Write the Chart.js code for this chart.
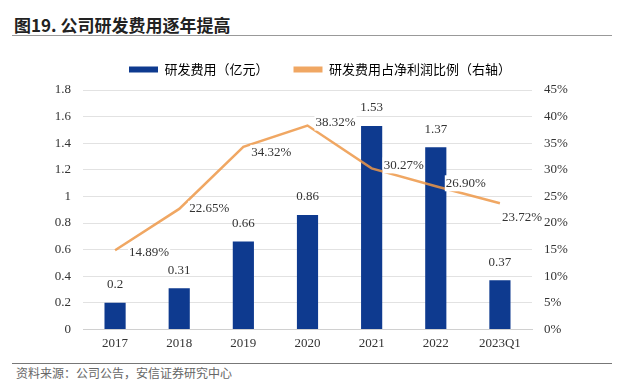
<!DOCTYPE html>
<html>
<head>
<meta charset="utf-8">
<script src="https://cdn.jsdelivr.net/npm/chart.js@4"></script>
<style>
  html, body { margin: 0; padding: 0; background: #fff; }
  #wrap { position: relative; width: 640px; height: 386px; overflow: hidden; }
  #title { position: absolute; left: 14px; top: 15px; font: bold 17px/20px "Noto Sans CJK SC", sans-serif; color: #222; }
  #rule1 { position: absolute; left: 12px; top: 35px; width: 600px; height: 1px; background: #999; }
  #rule2 { position: absolute; left: 12px; top: 363px; width: 600px; height: 1px; background: #777; }
  #source { position: absolute; left: 16px; top: 365px; font: 12px/16px "Noto Sans CJK SC", sans-serif; color: #666; }
  #box { position: absolute; left: 0; top: 38px; width: 640px; height: 319px; }
</style>
</head>
<body>
<div id="wrap">
  <div id="title">图19. 公司研发费用逐年提高</div>
  <div id="rule1"></div>
  <div id="box"><canvas id="chart"></canvas></div>
  <div id="rule2"></div>
  <div id="source">资料来源：公司公告，安信证券研究中心</div>
</div>
<script>
const categories = ['2017', '2018', '2019', '2020', '2021', '2022', '2023Q1'];
const rdExpense = [0.2, 0.31, 0.66, 0.86, 1.53, 1.37, 0.37];
const rdRatio = [14.89, 22.65, 34.32, 38.32, 30.27, 26.90, 23.72];
const rdExpenseLabels = ['0.2', '0.31', '0.66', '0.86', '1.53', '1.37', '0.37'];
const rdRatioLabels = ['14.89%', '22.65%', '34.32%', '38.32%', '30.27%', '26.90%', '23.72%'];

// label placement for the line points (dx, dy from the point)
const lineLabelShift = [[14, 2], [10, 0], [8, 6], [8, -3], [12, -3], [10, -3], [2, 14]];

const legendHeight = {
  id: 'legendHeight',
  beforeInit(chart) {
    const fit = chart.legend.fit;
    chart.legend.fit = function () {
      fit.call(this);
      this.height = 52;
    };
  }
};

const valueLabels = {
  id: 'valueLabels',
  afterDatasetsDraw(chart) {
    const ctx = chart.ctx;
    ctx.save();
    ctx.font = '13px "Liberation Serif", serif';
    ctx.textBaseline = 'middle';

    // bars are dataset 1
    chart.getDatasetMeta(1).data.forEach((bar, i) => {
      ctx.fillStyle = '#333';
      ctx.textAlign = 'center';
      ctx.fillText(rdExpenseLabels[i], bar.x, bar.y - 18);
    });

    // line is dataset 0
    chart.getDatasetMeta(0).data.forEach((pt, i) => {
      const [dx, dy] = lineLabelShift[i];
      const txt = rdRatioLabels[i];
      const w = ctx.measureText(txt).width;
      const x = pt.x + dx, y = pt.y + dy;
      ctx.fillStyle = '#fff';
      ctx.fillRect(x - 1, y - 8, w + 2, 16);
      ctx.fillStyle = '#333';
      ctx.textAlign = 'left';
      ctx.fillText(txt, x, y);
    });
    ctx.restore();
  }
};

new Chart(document.getElementById('chart'), {
  type: 'bar',
  data: {
    labels: categories,
    datasets: [
      {
        type: 'line',
        label: '研发费用占净利润比例（右轴）',
        data: rdRatio,
        yAxisID: 'y1',
        borderColor: 'rgba(237, 152, 72, 0.85)',
        backgroundColor: 'rgba(237, 152, 72, 0.85)',
        borderWidth: 2.5,
        pointRadius: 0,
        tension: 0,
        order: 0
      },
      {
        label: '研发费用（亿元）',
        data: rdExpense,
        yAxisID: 'y',
        backgroundColor: '#0e3a8f',
        barPercentage: 0.33,
        categoryPercentage: 1,
        order: 1
      }
    ]
  },
  options: {
    responsive: true,
    maintainAspectRatio: false,
    animation: false,
    layout: { padding: 0 },
    plugins: {
      tooltip: { enabled: false },
      legend: {
        position: 'top',
        reverse: true,
        labels: {
          font: { size: 13, family: '"Noto Sans CJK SC", sans-serif' },
          color: '#333',
          boxWidth: 29,
          boxHeight: 6,
          padding: 25,
          generateLabels(chart) {
            return chart.data.datasets.map((ds, i) => ({
              text: ds.label,
              fillStyle: ds.type === 'line' ? ds.borderColor : ds.backgroundColor,
              strokeStyle: ds.type === 'line' ? ds.borderColor : ds.backgroundColor,
              lineWidth: 0,
              datasetIndex: i,
              hidden: false
            }));
          }
        }
      }
    },
    scales: {
      x: {
        grid: { display: false, drawTicks: false },
        border: { color: '#d0d0d0' },
        ticks: { color: '#333', padding: 6, font: { size: 13, family: '"Liberation Serif", serif' } }
      },
      y: {
        position: 'left',
        min: 0,
        max: 1.8,
        afterFit(s) { s.width = 83; },
        grid: { color: '#e2e2e2', drawTicks: false },
        border: { display: false },
        ticks: {
          stepSize: 0.2,
          padding: 12,
          color: '#333',
          font: { size: 13, family: '"Liberation Serif", serif' },
          callback: v => Math.round(v * 10) / 10
        }
      },
      y1: {
        position: 'right',
        min: 0,
        max: 45,
        afterFit(s) { s.width = 108; },
        grid: { display: false, drawTicks: false },
        border: { display: false },
        ticks: {
          stepSize: 5,
          padding: 12,
          color: '#333',
          font: { size: 13, family: '"Liberation Serif", serif' },
          callback: v => v + '%'
        }
      }
    }
  },
  plugins: [legendHeight, valueLabels]
});
</script>
</body>
</html>
